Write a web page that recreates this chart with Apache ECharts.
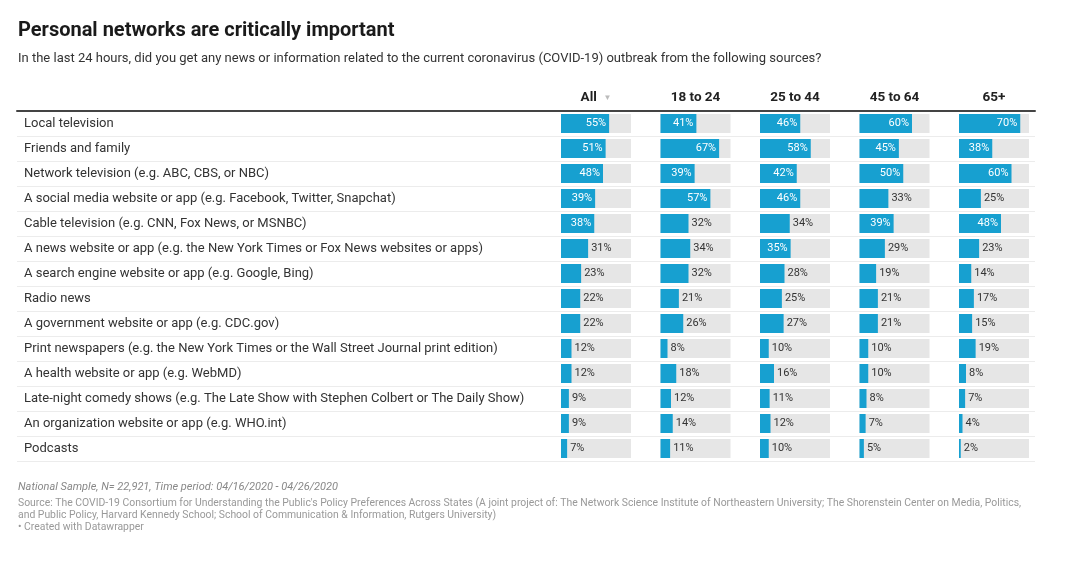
<!DOCTYPE html>
<html>
<head>
<meta charset="utf-8">
<script src="https://cdn.jsdelivr.net/npm/echarts@6/dist/echarts.min.js"></script>
<style>
  html, body { margin: 0; padding: 0; background: #fff; }
  #chart { width: 1076px; height: 563px; }
</style>
</head>
<body>
<div id="chart"></div>
<script>
// sources (rows, top to bottom)
var sources = [
  "Local television",
  "Friends and family",
  "Network television (e.g. ABC, CBS, or NBC)",
  "A social media website or app (e.g. Facebook, Twitter, Snapchat)",
  "Cable television (e.g. CNN, Fox News, or MSNBC)",
  "A news website or app (e.g. the New York Times or Fox News websites or apps)",
  "A search engine website or app (e.g. Google, Bing)",
  "Radio news",
  "A government website or app (e.g. CDC.gov)",
  "Print newspapers (e.g. the New York Times or the Wall Street Journal print edition)",
  "A health website or app (e.g. WebMD)",
  "Late-night comedy shows (e.g. The Late Show with Stephen Colbert or The Daily Show)",
  "An organization website or app (e.g. WHO.int)",
  "Podcasts"
];

// column headers
var groups = ["All", "18 to 24", "25 to 44", "45 to 64", "65+"];

// percent values per column
var allAges = [55, 51, 48, 39, 38, 31, 23, 22, 22, 12, 12, 9, 9, 7];
var age18to24 = [41, 67, 39, 57, 32, 34, 32, 21, 26, 8, 18, 12, 14, 11];
var age25to44 = [46, 58, 42, 46, 34, 35, 28, 25, 27, 10, 16, 11, 12, 10];
var age45to64 = [60, 45, 50, 33, 39, 29, 19, 21, 21, 10, 10, 8, 7, 5];
var age65plus = [70, 38, 60, 25, 48, 23, 14, 17, 15, 19, 8, 7, 4, 2];

var columns = [allAges, age18to24, age25to44, age45to64, age65plus];

var myChart = echarts.init(document.getElementById("chart"));
window.addEventListener("resize", myChart.resize);

var FONT = "Roboto";
var TOP = 111;
var ROW_H = 25;
var tableH = ROW_H * sources.length;
var colLeft = [561, 660.5, 760, 859.5, 959];
var colW = 70;

// main grid: row labels, separators and the header rule
var grids = [{ left: 17, width: 1018, top: TOP, height: tableH }];
var xAxes = [{
  gridIndex: 0, type: "value", min: 0, max: 100, position: "top",
  axisLine: { show: true, lineStyle: { color: "#444", width: 2 } },
  axisTick: { show: false }, axisLabel: { show: false }, splitLine: { show: false }
}];
var yAxes = [{
  gridIndex: 0, type: "category", data: sources, inverse: true,
  axisLine: { show: false }, axisTick: { show: false },
  axisLabel: { inside: true, margin: 7, color: "#333", fontSize: 13, fontFamily: FONT },
  splitLine: { show: true, lineStyle: { color: "#ececec", width: 1 } }
}];
var series = [];

groups.forEach(function (g, i) {
  var gi = i + 1;
  grids.push({ left: colLeft[i], width: colW, top: TOP, height: tableH });
  xAxes.push({
    gridIndex: gi, type: "value", min: 0, max: 80, position: "top",
    name: i === 0 ? "{h|All}  {t|▼}" : "{h|" + g + "}",
    nameLocation: "middle", nameGap: 6,
    nameTextStyle: {
      rich: {
        h: { fontFamily: FONT, fontSize: 13.5, fontWeight: "bold", color: "#222" },
        t: { fontFamily: FONT, fontSize: 8, color: "#bbb" }
      }
    },
    axisLine: { show: false }, axisTick: { show: false },
    axisLabel: { show: false }, splitLine: { show: false }
  });
  yAxes.push({
    gridIndex: gi, type: "category", data: sources, inverse: true, show: false
  });
  series.push({
    type: "bar", name: g, xAxisIndex: gi, yAxisIndex: gi,
    barWidth: 19,
    itemStyle: { color: "#17a0d0" },
    showBackground: true,
    backgroundStyle: { color: "#e6e6e6" },
    data: columns[i].map(function (v) {
      var inside = v >= 35;
      return {
        value: v,
        label: {
          show: true,
          position: inside ? "insideRight" : "right",
          distance: 3,
          color: inside ? "#fff" : "#333",
          fontFamily: FONT, fontSize: 11,
          formatter: "{c}%"
        }
      };
    })
  });
});

var option = {
  animation: false,
  title: [
    {
      text: "Personal networks are critically important",
      left: 13, top: 16,
      textStyle: { fontFamily: FONT, fontSize: 20, fontWeight: "bold", color: "#1a1a1a" }
    },
    {
      text: "In the last 24 hours, did you get any news or information related to the current coronavirus (COVID-19) outbreak from the following sources?",
      left: 13, top: 47,
      textStyle: { fontFamily: FONT, fontSize: 13, fontWeight: "normal", color: "#333" }
    },
    {
      text: "National Sample, N= 22,921, Time period: 04/16/2020 - 04/26/2020",
      left: 13, top: 477,
      textStyle: { fontFamily: FONT, fontSize: 11, fontStyle: "italic", fontWeight: "normal", color: "#888" }
    },
    {
      text: "Source: The COVID-19 Consortium for Understanding the Public's Policy Preferences Across States (A joint project of: The Network Science Institute of Northeastern University; The Shorenstein Center on Media, Politics,\nand Public Policy, Harvard Kennedy School; School of Communication & Information, Rutgers University)\n• Created with Datawrapper",
      left: 13, top: 492,
      textStyle: { fontFamily: FONT, fontSize: 10.4, fontWeight: "normal", color: "#999", lineHeight: 12 }
    }
  ],
  grid: grids,
  xAxis: xAxes,
  yAxis: yAxes,
  series: series
};

myChart.setOption(option);
</script>
</body>
</html>
